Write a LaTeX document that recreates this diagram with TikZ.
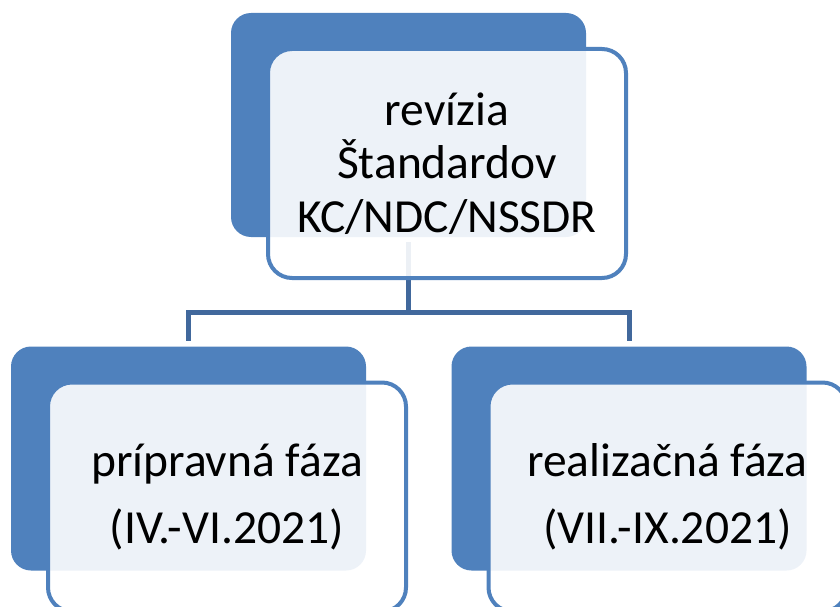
\documentclass[tikz,border=0pt]{standalone}
\usepackage{fontspec}
\setmainfont{Carlito}
\usetikzlibrary{positioning}
\definecolor{sa-dark}{HTML}{4F81BD}
\definecolor{sa-line}{HTML}{41689C}

\begin{document}
\begin{tikzpicture}[x=1pt, y=-1pt,
    back/.style={rectangle, rounded corners=20pt, fill=sa-dark, minimum width=355pt, minimum height=224pt},
    front/.style={rectangle, rounded corners=24pt, draw=sa-dark, line width=4pt, fill=white, fill opacity=0.9, text opacity=1,
        minimum width=358pt, minimum height=229pt, align=center, font=\fontsize{47.5}{53.5}\selectfont},
    link/.style={draw=sa-line, line width=5pt, shorten <=5pt, shorten >=5pt}]
    \clip (0,0) rectangle (840,607);
    \node[back] (rev) at (408.5,125) {};
    \node[back] (prep) at (188.5,458.5) {};
    \node[back] (real) at (629,458.5) {};
    \draw[link] (rev.south) -- ++(0,75) -| (prep.north);
    \draw[link] (rev.south) -- ++(0,75) -| (real.north);
    \node[front] (revtxt) at ([shift={(38.5,38.5)}]rev.center) {revízia\\Štandardov\\KC/NDC/NSSDR};
    \node[front] (preptxt) at ([shift={(38.5,38.5)}]prep.center) {prípravná fáza\\[14pt](IV.-VI.2021)};
    \node[front] (realtxt) at ([shift={(38.5,38.5)}]real.center) {realizačná fáza\\[14pt](VII.-IX.2021)};
\end{tikzpicture}
\end{document}
